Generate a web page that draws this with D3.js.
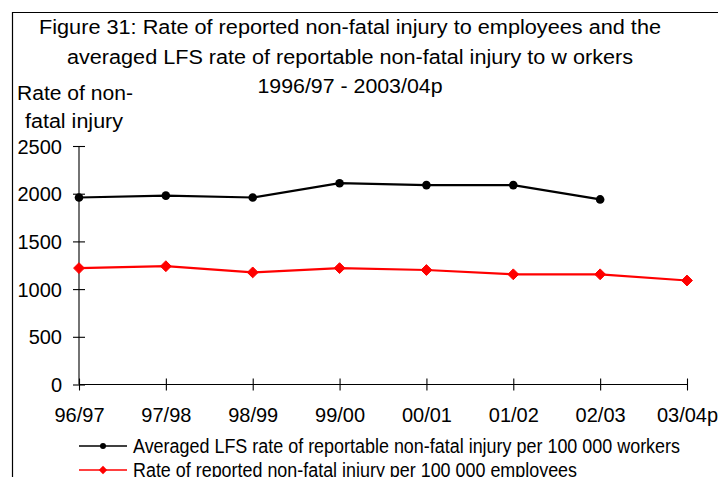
<!DOCTYPE html>
<html><head><meta charset="utf-8">
<script src="https://cdn.jsdelivr.net/npm/d3@7"></script>
<style>
html,body{margin:0;padding:0;background:#fff;overflow:hidden}
svg{display:block;font-family:"Liberation Sans",Arial,sans-serif}
</style></head>
<body>
<script>
const categories = ["96/97","97/98","98/99","99/00","00/01","01/02","02/03","03/04p"];
const lfsRate = [1960, 1980, 1960, 2110, 2090, 2090, 1940, null];
const reportedRate = [1220, 1240, 1175, 1220, 1200, 1155, 1155, 1090];
const yTicks = [0, 500, 1000, 1500, 2000, 2500];
const titleLines = ["Figure 31: Rate of reported non-fatal injury to employees and the",
                    "averaged LFS rate of reportable non-fatal injury to w orkers",
                    "1996/97 - 2003/04p"];
const yLabelLines = ["Rate of non-", "fatal injury"];
const seriesNames = ["Averaged LFS rate of reportable non-fatal injury per 100 000 workers",
                     "Rate of reported non-fatal injury per 100 000 employees"];

const W = 718, H = 477;
const svg = d3.select("body").append("svg").attr("width", W).attr("height", H);

// frame
svg.append("path").attr("d", "M12.5,477 V12.5 H718").attr("fill","none").attr("stroke","#000").attr("stroke-width",1.2);

// title
const titleY = [34, 63.5, 93];
const titleW = [622, 566, 185];
titleLines.forEach((t,i)=>{
  svg.append("text").attr("x",350).attr("y",titleY[i]).attr("text-anchor","middle")
    .attr("font-size",20).attr("fill","#000")
    .attr("textLength",titleW[i]).attr("lengthAdjust","spacingAndGlyphs").text(t);
});
// y label
svg.append("text").attr("x",17).attr("y",100).attr("font-size",20).attr("textLength",116).attr("lengthAdjust","spacingAndGlyphs").text(yLabelLines[0]);
svg.append("text").attr("x",25).attr("y",128).attr("font-size",20).attr("textLength",98).attr("lengthAdjust","spacingAndGlyphs").text(yLabelLines[1]);

const x = d3.scalePoint().domain(categories).range([79, 687]);
const y = d3.scaleLinear().domain([0, 2500]).range([384.5, 146]);

// y axis
const yAxis = svg.append("g").attr("transform","translate(79,0)")
  .call(d3.axisLeft(y).tickValues(yTicks).tickSize(6).tickPadding(11).tickFormat(d3.format("d")));
yAxis.select(".domain").attr("d", `M0,${y(0)}V${y(2500)}`);
yAxis.selectAll(".tick line").attr("x1", 6).attr("x2", -6);
yAxis.selectAll("text").attr("font-size",20).attr("font-family","Liberation Sans, Arial, sans-serif").attr("fill","#000").attr("dy","0.35em");
yAxis.selectAll("path,line").attr("stroke","#000").attr("stroke-width",1.1);

// x axis
const xAxis = svg.append("g").attr("transform",`translate(0,${y(0)})`)
  .call(d3.axisBottom(x).tickSize(6).tickPadding(17));
xAxis.select(".domain").attr("d", `M${x(categories[0])},0H${x(categories[categories.length-1])}`);
xAxis.selectAll(".tick line").attr("y1", -6).attr("y2", 6);
xAxis.selectAll("text").attr("font-size",20).attr("font-family","Liberation Sans, Arial, sans-serif").attr("fill","#000");
xAxis.selectAll("path,line").attr("stroke","#000").attr("stroke-width",1.1);

// lines
const lfsData = categories.map((c,i)=>({c, v: lfsRate[i]})).filter(d=>d.v!=null);
const repData = categories.map((c,i)=>({c, v: reportedRate[i]}));
const line = d3.line().x(d=>x(d.c)).y(d=>y(d.v));

svg.append("path").datum(repData).attr("d",line).attr("fill","none").attr("stroke","#ff0000").attr("stroke-width",2.2);
svg.selectAll(".rep").data(repData).enter().append("path")
  .attr("transform",d=>`translate(${x(d.c)},${y(d.v)})`)
  .attr("d", d3.symbol(d3.symbolDiamond2, 75)).attr("fill","#ff0000").attr("stroke","#ff0000");

svg.append("path").datum(lfsData).attr("d",line).attr("fill","none").attr("stroke","#000").attr("stroke-width",2.2);
svg.selectAll(".lfs").data(lfsData).enter().append("circle")
  .attr("cx",d=>x(d.c)).attr("cy",d=>y(d.v)).attr("r",4.3).attr("fill","#000");

// legend
const legY = [446, 470];
const legW = [547, 444];
seriesNames.forEach((n,i)=>{
  const g = svg.append("g");
  const col = i===0 ? "#000" : "#ff0000";
  g.append("line").attr("x1",79).attr("x2",127).attr("y1",legY[i]).attr("y2",legY[i]).attr("stroke",col).attr("stroke-width",1.5);
  if(i===0) g.append("circle").attr("cx",103).attr("cy",legY[i]).attr("r",3).attr("fill",col);
  else g.append("path").attr("transform",`translate(103,${legY[i]})`).attr("d",d3.symbol(d3.symbolDiamond2,45)).attr("fill",col);
  g.append("text").attr("x",133).attr("y",legY[i]+6.5).attr("font-size",20).attr("fill","#000")
    .attr("textLength",legW[i]).attr("lengthAdjust","spacingAndGlyphs").text(n);
});
</script>
</body></html>
